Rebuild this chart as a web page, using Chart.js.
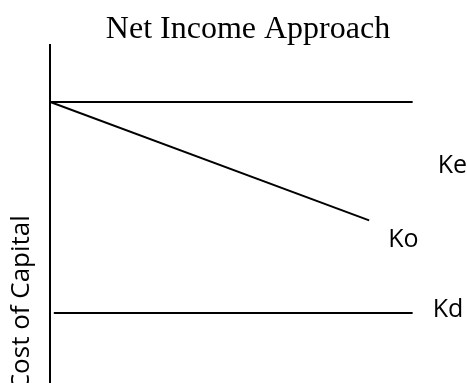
<!DOCTYPE html>
<html>
<head>
<meta charset="utf-8">
<script src="https://cdn.jsdelivr.net/npm/chart.js@4"></script>
<style>
    html, body { margin: 0; padding: 0; background: #fff; overflow: hidden; }
    #box { width: 496px; height: 560px; }
</style>
</head>
<body>
<div id="box"><canvas id="grafico"></canvas></div>
<script>
// dados (escala arbitrária 0–100)
const seriesNames = ["Ke", "Ko", "Kd"];
const keX = [0, 100];
const keY = [89, 89];
const koX = [0, 88];
const koY = [89, 66];
const kdX = [1, 100];
const kdY = [48, 48];

// posição dos rótulos em relação ao último ponto de cada linha
const labelOffsets = { Ke: [25, 71], Ko: [19, 27], Kd: [20, 4] };

function pontos(xs, ys) {
    return xs.map((x, i) => ({ x: x, y: ys[i] }));
}

/* rótulos Ke / Ko / Kd no fim de cada linha */
const rotulosPlugin = {
    id: "rotulos",
    afterDatasetsDraw(chart) {
        const ctx = chart.ctx;
        ctx.save();
        ctx.font = "25px 'Open Sans'";
        ctx.fillStyle = "#000";
        ctx.textBaseline = "alphabetic";
        ctx.textAlign = "left";
        chart.data.datasets.forEach((ds, i) => {
            const meta = chart.getDatasetMeta(i);
            const last = meta.data[meta.data.length - 1];
            const off = labelOffsets[ds.label];
            ctx.fillText(ds.label, last.x + off[0], last.y + off[1]);
        });
        ctx.restore();
    }
};

document.addEventListener("DOMContentLoaded", () => {
    const ctx = document.getElementById("grafico");
    const linha = { borderColor: "#000", borderWidth: 2, pointRadius: 0, fill: false, tension: 0 };

    new Chart(ctx, {
        type: "line",
        data: {
            datasets: [
                { label: seriesNames[0], data: pontos(keX, keY), ...linha },
                { label: seriesNames[1], data: pontos(koX, koY), ...linha },
                { label: seriesNames[2], data: pontos(kdX, kdY), ...linha }
            ]
        },
        options: {
            responsive: true,
            maintainAspectRatio: false,
            animation: false,
            layout: { padding: 0 },
            plugins: {
                legend: { display: false },
                tooltip: { enabled: false },
                title: {
                    display: true,
                    text: "Net Income Approach",
                    color: "#000",
                    font: { family: "'Liberation Serif'", size: 32, weight: "normal" },
                    padding: { top: 10, bottom: -3 }
                }
            },
            scales: {
                x: { type: "linear", min: 0, max: 123, display: false },
                y: {
                    min: 0,
                    max: 100,
                    ticks: { display: false },
                    grid: { display: false, drawTicks: false },
                    border: { display: true, color: "#000", width: 2 },
                    title: {
                        display: true,
                        text: "Cost of Capital",
                        color: "#000",
                        font: { family: "'Open Sans'", size: 26 },
                        padding: { top: 6, bottom: 13 }
                    }
                }
            }
        },
        plugins: [rotulosPlugin]
    });
});
</script>
</body>
</html>
